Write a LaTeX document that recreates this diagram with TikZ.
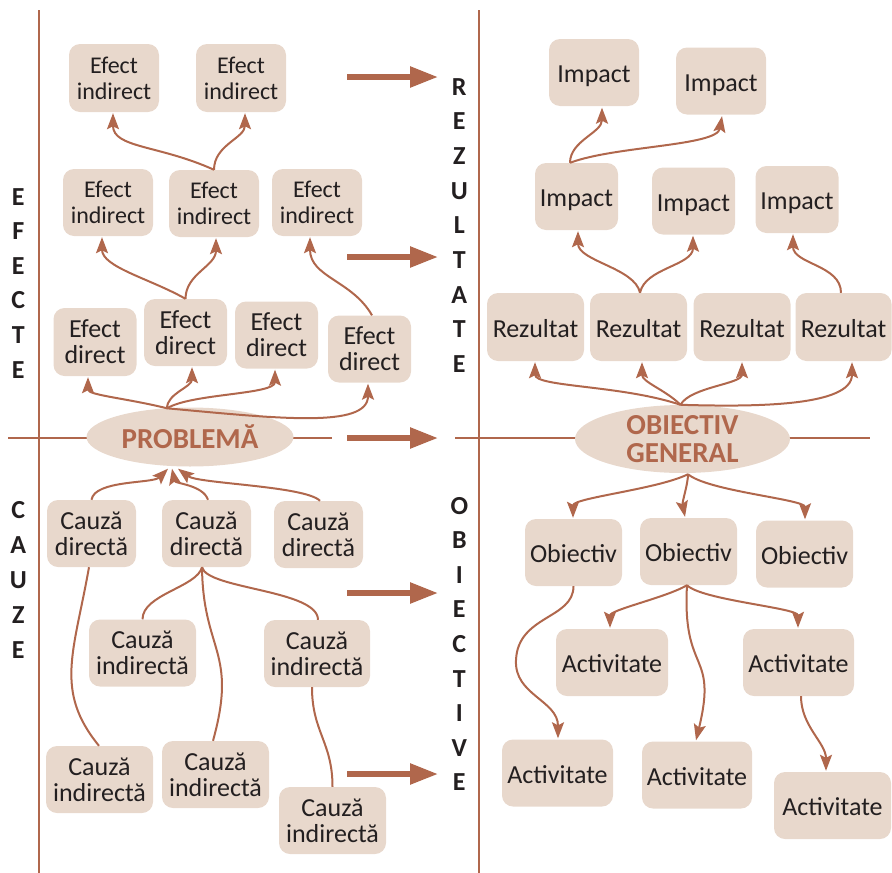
\documentclass[tikz,border=0pt]{standalone}
\usepackage{fontspec}
\setmainfont{Carlito}
\usetikzlibrary{shapes.geometric,arrows.meta,calc}
\definecolor{rust}{HTML}{B0674C}
\definecolor{sand}{HTML}{E8D8CC}
\definecolor{ink}{HTML}{231F20}
\tikzset{
  box/.style={fill=sand, rounded corners=11pt, align=center, text=ink,
    inner sep=0pt, minimum height=67pt, font=\fontsize{26}{26}\selectfont},
  onebox/.style={box, text height=20pt, text depth=0pt},
  ebox/.style={box, font=\fontsize{24}{26}\selectfont},
  hub/.style={ellipse, fill=sand, text=rust, inner sep=0pt, align=center,
    font=\bfseries\fontsize{29}{27}\selectfont},
  link/.style={draw=rust, line width=2pt, -{Stealth[length=16pt,width=12pt,inset=3pt]}},
  tie/.style={draw=rust, line width=2pt},
  rule/.style={draw=rust, line width=2.5pt},
  bigarrow/.style={draw=rust, line width=5.5pt, -{Triangle[length=28pt,width=20pt]}},
  sidelabel/.style={text=ink, font=\bfseries\fontsize{26}{26}\selectfont,
    inner sep=0pt, anchor=base},
}
\begin{document}
\begin{tikzpicture}[x=1pt,y=1pt]
\useasboundingbox (0,0) rectangle (892,-873);

% axes of the four quadrants
\draw[rule] (39,-10) -- (39,-873);
\draw[rule] (479,-10) -- (479,-873);
\draw[rule] (8,-438) -- (332,-438);
\draw[rule] (455,-438) -- (870,-438);

% quadrant titles
\foreach \ch [count=\i] in {E,F,E,C,T,E}
  \node[sidelabel] (efx\i) at (18.3,{-205-34.6*(\i-1)}) {\ch};
\foreach \ch [count=\i] in {C,A,U,Z,E}
  \node[sidelabel] (cau\i) at (18.3,{-518-35*(\i-1)}) {\ch};
\foreach \ch [count=\i] in {R,E,Z,U,L,T,A,T,E}
  \node[sidelabel] (rez\i) at (459.3,{-95-34.7*(\i-1)}) {\ch};
\foreach \ch [count=\i] in {O,B,I,E,C,T,I,V,E}
  \node[sidelabel] (obi\i) at (459.3,{-514-34.6*(\i-1)}) {\ch};

% transition arrows
\foreach \y [count=\i] in {77,257,438,593,774}
  \draw[bigarrow] (347,-\y) coordinate (ba\i) -- (438,-\y);

% central hubs
\node[hub, minimum width=207pt, minimum height=59pt] (pr) at (190,-437) {PROBLEMĂ};
\node[hub, minimum width=215pt, minimum height=68pt, font=\bfseries\fontsize{29}{28.5}\selectfont]
  (og) at (682.5,-439) {OBIECTIV\\GENERAL};

% effects
\node[ebox, minimum width=90pt, minimum height=68pt] (ei1) at (114,-78) {Efect\\indirect};
\node[ebox, minimum width=90pt, minimum height=68pt] (ei2) at (241,-78) {Efect\\indirect};
\node[ebox, minimum width=90pt] (ei3) at (108,-202.5) {Efect\\indirect};
\node[ebox, minimum width=90pt] (ei4) at (214,-203.5) {Efect\\indirect};
\node[ebox, minimum width=90pt] (ei5) at (317,-202.5) {Efect\\indirect};
\node[box, minimum width=83pt, minimum height=68pt] (ed1) at (95,-342) {Efect\\direct};
\node[box, minimum width=83pt] (ed2) at (185.5,-332.5) {Efect\\direct};
\node[box, minimum width=83pt] (ed3) at (276.5,-335) {Efect\\direct};
\node[box, minimum width=83pt] (ed4) at (369.5,-349) {Efect\\direct};

% results
\node[onebox, minimum width=90pt] (im1) at (594,-72.5) {Impact};
\node[onebox, minimum width=90pt] (im2) at (721,-81) {Impact};
\node[onebox, minimum width=83pt] (im3) at (576.5,-196.5) {Impact};
\node[onebox, minimum width=83pt] (im4) at (693.5,-201) {Impact};
\node[onebox, minimum width=83pt] (im5) at (797,-199.5) {Impact};
\node[onebox, minimum width=97pt, minimum height=68pt] (r1) at (535.5,-327) {Rezultat};
\node[onebox, minimum width=97pt, minimum height=68pt] (r2) at (638.5,-327) {Rezultat};
\node[onebox, minimum width=97pt, minimum height=68pt] (r3) at (742,-327) {Rezultat};
\node[onebox, minimum width=96pt, minimum height=68pt] (r4) at (843.5,-327) {Rezultat};

% causes
\node[box, minimum width=89pt] (cd1) at (91.5,-533.5) {Cauză\\directă};
\node[box, minimum width=89pt] (cd2) at (206.5,-533.5) {Cauză\\directă};
\node[box, minimum width=89pt] (cd3) at (318.5,-534.5) {Cauză\\directă};
\node[box, minimum width=107pt] (ci1) at (142.5,-653) {Cauză\\indirectă};
\node[box, minimum width=106pt] (ci2) at (317,-653.5) {Cauză\\indirectă};
\node[box, minimum width=107pt] (ci3) at (99.5,-779.5) {Cauză\\indirectă};
\node[box, minimum width=107pt] (ci4) at (215.5,-774.5) {Cauză\\indirectă};
\node[box, minimum width=107pt] (ci5) at (332.5,-820.5) {Cauză\\indirectă};

% objectives
\node[onebox, minimum width=97pt] (ob1) at (573.5,-552.5) {Obiectiv};
\node[onebox, minimum width=97pt] (ob2) at (688.5,-551.5) {Obiectiv};
\node[onebox, minimum width=97pt] (ob3) at (804.5,-554) {Obiectiv};
\node[onebox, minimum width=112pt] (a1) at (612,-662.5) {Activitate};
\node[onebox, minimum width=111pt] (a2) at (798.5,-662.5) {Activitate};
\node[onebox, minimum width=111pt] (a3) at (557.5,-773) {Activitate};
\node[onebox, minimum width=110pt] (a4) at (697,-775) {Activitate};
\node[onebox, minimum width=117pt] (a5) at (832.5,-805.5) {Activitate};

% anchor points on the hubs
\coordinate (prtop) at ($(pr.north)+(-23,-1)$);
\coordinate (ogtop) at ($(og.north)+(-2,0)$);
\coordinate (ogbot) at ($(og.south)+(5.5,-1)$);

% problem -> effects
\draw[link] (prtop) .. controls +(-40,10) and +(0,-18) .. ($(ed1.south)+(-7,-1)$);
\draw[link] (prtop) .. controls +(0,15) and +(0,-20) .. ($(ed2.south)+(6.5,-1)$);
\draw[link] (prtop) .. controls +(25,15) and +(0,-25) .. ($(ed3.south)+(-1.5,-1)$);
\draw[link] (prtop) .. controls +(110,-10) and +(0,-45) .. ($(ed4.south)+(-1.5,-1)$);
\draw[link] (ed2.north) .. controls +(-35,20) and +(0,-30) .. ($(ei3.south)+(-6,-1)$);
\draw[link] (ed2.north) .. controls +(0,25) and +(0,-28) .. ($(ei4.south)+(2,-1)$);
\draw[link] ($(ed4.north)+(2.5,0)$) .. controls +(-20,35) and +(0,-40) .. ($(ei5.south)+(-7,-1)$);
\draw[link] (ei4.north) .. controls +(-55,25) and +(0,-35) .. ($(ei1.south)+(-1,-1)$);
\draw[link] (ei4.north) .. controls +(0,25) and +(0,-25) .. ($(ei2.south)+(4,-1)$);

% general objective -> results -> impact
\draw[link] (ogtop) .. controls +(-60,20) and +(0,-25) .. ($(r1.south)+(-0.5,-1)$);
\draw[link] (ogtop) .. controls +(-15,15) and +(0,-20) .. ($(r2.south)+(3.5,-1)$);
\draw[link] (ogtop) .. controls +(10,18) and +(0,-22) .. ($(r3.south)+(0,-1)$);
\draw[link] (ogtop) .. controls +(70,-2) and +(0,-45) .. ($(r4.south)+(8.5,-1)$);
\draw[link] ($(r2.north)+(1.5,0)$) .. controls +(-5,25) and +(0,-30) .. ($(im3.south)+(1.5,-1)$);
\draw[link] ($(r2.north)+(1.5,0)$) .. controls +(5,25) and +(0,-30) .. ($(im4.south)+(-0.5,-1)$);
\draw[link] ($(r4.north)+(-2.5,0)$) .. controls +(0,28) and +(0,-30) .. ($(im5.south)+(-4,-1)$);
\draw[link] ($(im3.north)+(-6.5,0)$) .. controls +(0,22) and +(0,-25) .. ($(im1.south)+(8,-1.5)$);
\draw[link] ($(im3.north)+(-6.5,0)$) .. controls +(45,17) and +(-5,-30) .. ($(im2.south)+(1,-1.5)$);

% direct causes -> problem
\draw[link] (cd1.north) .. controls +(3,20) and +(-15,-15) .. ($(pr.south)+(-22,-2)$);
\draw[link] ($(cd2.north)+(1.5,0)$) .. controls +(-5,15) and +(3,-15) .. ($(pr.south)+(-18,-2)$);
\draw[link] ($(cd3.north)+(1.5,0)$) .. controls +(-15,15) and +(20,-15) .. ($(pr.south)+(-12,-2)$);

% indirect causes
\draw[tie] ($(cd2.south)+(-4.5,0)$) .. controls +(-5,-20) and +(0,25) .. (ci1.north);
\draw[tie] ($(cd2.south)+(-4.5,0)$) .. controls +(1,-85) and +(25,90) .. ($(ci4.north)+(-2.5,0)$);
\draw[tie] ($(cd2.south)+(-4.5,0)$) .. controls +(5,-22) and +(0,30) .. ($(ci2.north)+(1,0)$);
\draw[tie] ($(cd1.south)+(-2.5,0)$) .. controls +(-15,-85) and +(-45,55) .. ($(ci3.north)+(-0.5,0)$);
\draw[tie] ($(ci2.south)+(-5,0)$) .. controls +(0,-45) and +(0,45) .. (ci5.north);

% general objective -> objectives -> activities
\draw[link] (ogbot) .. controls +(-30,-15) and +(0,20) .. ($(ob1.north)+(-0.5,1)$);
\draw[link] (ogbot) .. controls +(0,-10) and +(-3,15) .. ($(ob2.north)+(-3.5,1)$);
\draw[link] (ogbot) .. controls +(20,-17) and +(0,20) .. ($(ob3.north)+(0.5,1)$);
\draw[link] ($(ob2.south)+(-1.5,0)$) .. controls +(-20,-12) and +(0,18) .. ($(a1.north)+(-2,1)$);
\draw[link] ($(ob2.south)+(-1.5,0)$) .. controls +(-5,-90) and +(22,90) .. ($(a4.north)+(-1,1)$);
\draw[link] ($(ob2.south)+(-1.5,0)$) .. controls +(15,-15) and +(0,20) .. ($(a2.north)+(-0.5,1)$);
\coordinate (bend) at (516,-660);
\draw[link] (ob1.south) .. controls +(0,-33) and +(2,45) .. (bend)
  .. controls +(-2,-35) and +(0,38) .. ($(a3.north)+(0.5,1)$);
\draw[link] ($(a2.south)+(2.5,0)$) .. controls +(0,-30) and +(0,28) .. ($(a5.north)+(-6.5,1)$);
\end{tikzpicture}
\end{document}
